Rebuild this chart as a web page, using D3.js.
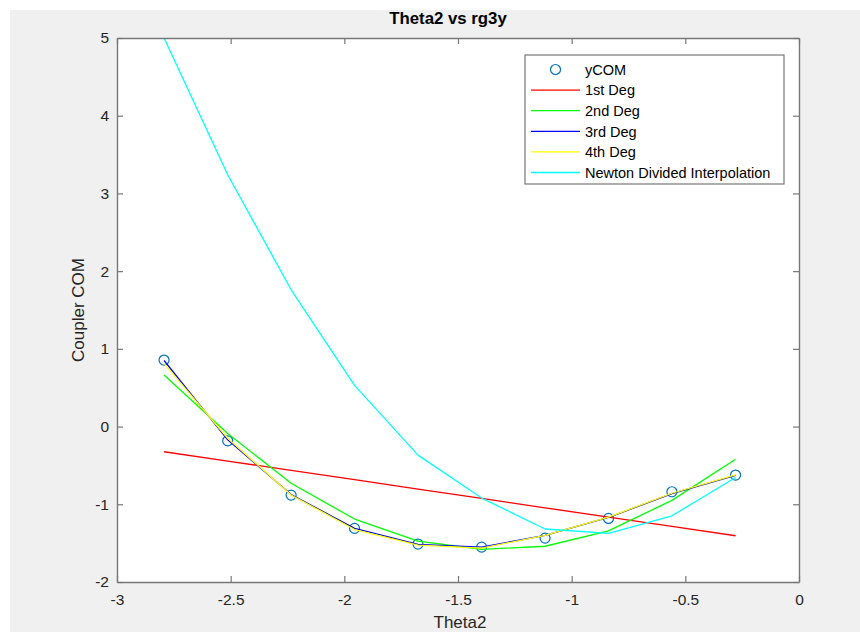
<!DOCTYPE html>
<html>
<head>
<meta charset="utf-8">
<script src="https://cdn.jsdelivr.net/npm/d3@7"></script>
<style>
  html, body { margin: 0; padding: 0; background: #ffffff; }
  svg { display: block; font-family: "Liberation Sans", Arial, Helvetica, sans-serif; }
</style>
</head>
<body>
<svg id="chart" width="860" height="632"></svg>
<script>
// ---- data ----
const theta2   = [-2.793, -2.513, -2.234, -1.955, -1.676, -1.396, -1.117, -0.838, -0.559, -0.279];
const yCOM     = [0.856, -0.183, -0.882, -1.310, -1.512, -1.551, -1.435, -1.182, -0.839, -0.624];
const deg1     = [-0.324, -0.444, -0.564, -0.684, -0.805, -0.925, -1.045, -1.165, -1.285, -1.405];
const deg2     = [0.663, -0.090, -0.730, -1.190, -1.475, -1.580, -1.540, -1.342, -0.950, -0.420];
const deg3     = [0.850, -0.170, -0.875, -1.310, -1.515, -1.552, -1.400, -1.170, -0.862, -0.628];
const deg4     = [0.810, -0.150, -0.880, -1.325, -1.525, -1.565, -1.400, -1.165, -0.858, -0.622];
const newton   = [5.000, 3.240, 1.760, 0.530, -0.367, -0.920, -1.318, -1.375, -1.148, -0.655];

const xTicks = [-3, -2.5, -2, -1.5, -1, -0.5, 0];
const yTicks = [-2, -1, 0, 1, 2, 3, 4, 5];
const xDomain = [-3, 0];
const yDomain = [-2, 5];

const titleText = "Theta2 vs rg3y";
const xLabelText = "Theta2";
const yLabelText = "Coupler COM";

const lineSeries = [
  { name: "1st Deg", values: deg1, color: "#ff0000" },
  { name: "2nd Deg", values: deg2, color: "#00ff00" },
  { name: "3rd Deg", values: deg3, color: "#0000ff" },
  { name: "4th Deg", values: deg4, color: "#ffff00" },
  { name: "Newton Divided Interpolation", values: newton, color: "#00ffff" }
];
const markerName = "yCOM";
const markerColor = "#0072bd";

// ---- layout ----
const svg = d3.select("#chart");
const plot = { left: 117, top: 38, right: 799, bottom: 582 };
const axisColor = "#777777";
const textColor = "#262626";

svg.append("rect").attr("x", 10).attr("y", 10).attr("width", 850).attr("height", 622).attr("fill", "#f0f0f0");
svg.append("rect").attr("x", plot.left).attr("y", plot.top)
  .attr("width", plot.right - plot.left).attr("height", plot.bottom - plot.top).attr("fill", "#ffffff");

const x = d3.scaleLinear().domain(xDomain).range([plot.left, plot.right]);
const y = d3.scaleLinear().domain(yDomain).range([plot.bottom, plot.top]);

svg.append("clipPath").attr("id", "clip").append("rect")
  .attr("x", plot.left).attr("y", plot.top)
  .attr("width", plot.right - plot.left).attr("height", plot.bottom - plot.top);

const g = svg.append("g").attr("clip-path", "url(#clip)");

// markers first (plotted first in MATLAB)
g.selectAll("circle.pt").data(theta2).enter().append("circle")
  .attr("class", "pt")
  .attr("cx", d => x(d))
  .attr("cy", (d, i) => y(yCOM[i]))
  .attr("r", 5)
  .attr("fill", "none")
  .attr("stroke", markerColor)
  .attr("stroke-width", 1.2);

const line = d3.line().x(d => x(d[0])).y(d => y(d[1]));
lineSeries.forEach(s => {
  g.append("path")
    .datum(theta2.map((t, i) => [t, s.values[i]]))
    .attr("d", line)
    .attr("fill", "none")
    .attr("stroke", s.color)
    .attr("stroke-width", 1.3)
    .attr("stroke-linejoin", "round");
});

// ---- axes (MATLAB style box, ticks inward on all sides) ----
const tickFont = 15.5;
const fmt = d => d3.format("")(d).replace("\u2212", "-");
const xAxisB = d3.axisBottom(x).tickValues(xTicks).tickSizeInner(-6).tickSizeOuter(0).tickPadding(12).tickFormat(fmt);
const xAxisT = d3.axisTop(x).tickValues(xTicks).tickSizeInner(-6).tickSizeOuter(0).tickFormat("");
const yAxisL = d3.axisLeft(y).tickValues(yTicks).tickSizeInner(-6).tickSizeOuter(0).tickPadding(8).tickFormat(fmt);
const yAxisR = d3.axisRight(y).tickValues(yTicks).tickSizeInner(-6).tickSizeOuter(0).tickFormat("");

function styleAxis(sel) {
  sel.selectAll(".domain").attr("stroke", axisColor).attr("stroke-width", 1.4);
  sel.selectAll(".tick line").attr("stroke", axisColor).attr("stroke-width", 1.2);
  sel.selectAll(".tick text").attr("fill", textColor).style("font-size", tickFont + "px")
    .style("font-family", "'Liberation Sans', Arial, sans-serif");
}

svg.append("g").attr("transform", `translate(0,${plot.bottom})`).call(xAxisB).call(styleAxis);
svg.append("g").attr("transform", `translate(0,${plot.top})`).call(xAxisT).call(styleAxis);
svg.append("g").attr("transform", `translate(${plot.left},0)`).call(yAxisL).call(styleAxis);
svg.append("g").attr("transform", `translate(${plot.right},0)`).call(yAxisR).call(styleAxis);

// ---- labels ----
svg.append("text").attr("x", 448).attr("y", 24).attr("text-anchor", "middle")
  .attr("font-weight", "bold").attr("font-size", 16.8).attr("fill", "#000000").text(titleText);
svg.append("text").attr("x", 460).attr("y", 628).attr("text-anchor", "middle")
  .attr("font-size", 17).attr("fill", textColor).text(xLabelText);
svg.append("text").attr("transform", "translate(84,310) rotate(-90)").attr("text-anchor", "middle")
  .attr("font-size", 17).attr("fill", textColor).text(yLabelText);

// ---- legend ----
const leg = { x: 525, y: 55, w: 259, h: 129 };
const lg = svg.append("g");
lg.append("rect").attr("x", leg.x).attr("y", leg.y).attr("width", leg.w).attr("height", leg.h)
  .attr("fill", "#ffffff").attr("stroke", axisColor).attr("stroke-width", 1.2);
const rowY = i => 69.5 + i * 20.6;
const legendFont = 14.5;
// marker entry
lg.append("circle").attr("cx", 555.5).attr("cy", rowY(0)).attr("r", 5)
  .attr("fill", "none").attr("stroke", markerColor).attr("stroke-width", 1.2);
lg.append("text").attr("x", 585).attr("y", rowY(0)).attr("dy", "0.36em")
  .attr("font-size", legendFont).attr("fill", "#000000").text(markerName);
lineSeries.forEach((s, i) => {
  const yy = rowY(i + 1);
  lg.append("line").attr("x1", 531).attr("x2", 580).attr("y1", yy).attr("y2", yy)
    .attr("stroke", s.color).attr("stroke-width", 1.3);
  lg.append("text").attr("x", 585).attr("y", yy).attr("dy", "0.36em")
    .attr("font-size", legendFont).attr("fill", "#000000").text(s.name);
});
</script>
</body>
</html>
